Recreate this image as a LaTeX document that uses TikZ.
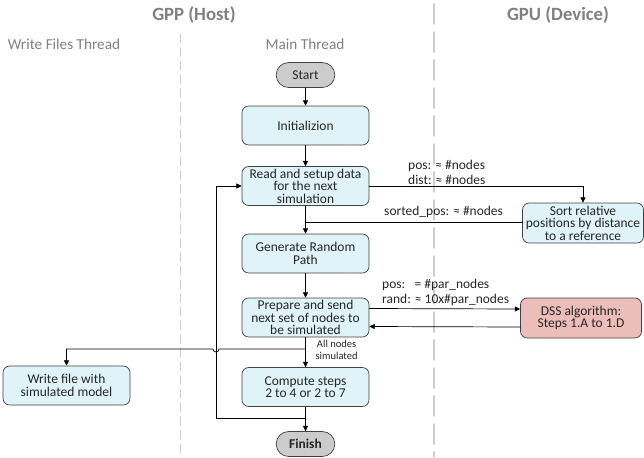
\documentclass[tikz,border=0pt]{standalone}
\usepackage{fontspec}
\setmainfont{Carlito}
\usetikzlibrary{arrows.meta,shapes.misc}

\begin{document}
\begin{tikzpicture}
[x=0.3mm,y=-0.3mm,line cap=round,
% Styles
every node/.style={font=\fontsize{11.5}{10.6}\selectfont,text=textcolor},
process/.style={draw=boxline,fill=boxcolor,rounded corners=2mm,
  minimum width=127*0.3mm,minimum height=39*0.3mm,inner sep=0.5pt,
  align=center,line width=0.6pt},
terminal/.style={draw=boxline,fill=termcolor,rounded rectangle,
  minimum width=61*0.3mm,minimum height=25*0.3mm,inner sep=1pt,line width=0.6pt},
flow/.style={-{Triangle[length=1.6mm,width=1.5mm]},line width=0.6pt},
link/.style={line width=0.6pt},
lane title/.style={font=\fontsize{16}{18}\selectfont\bfseries,text=titlecolor},
thread title/.style={font=\fontsize{13}{15}\selectfont,text=titlecolor},
data text/.style={align=left,anchor=west,inner sep=0pt,font=\fontsize{11.5}{13}\selectfont}]
% Colors
\colorlet{textcolor}{black!85}
\colorlet{titlecolor}{black!50}
\colorlet{boxline}{black!75}
\definecolor{boxcolor}{RGB}{223,243,248}
\definecolor{gpucolor}{RGB}{236,190,186}
\colorlet{termcolor}{black!20}
\colorlet{lanecolor}{black!20}
\useasboundingbox (0,0) rectangle (644,457);
% Lanes
\draw[lanecolor,line width=1.4pt,dash pattern=on 6mm off 2.4mm] (434,4) -- (434,457);
\draw[lanecolor,line width=0.7pt,dash pattern=on 2.6mm off 1.5mm] (180,34) -- (180,457);
\node[lane title] (gpp) at (194,15) {GPP (Host)};
\node[lane title] (gpu) at (558,15) {GPU (Device)};
\node[thread title] (wft) at (64,44) {Write Files Thread};
\node[thread title] (mt) at (305,44) {Main Thread};
% Main thread
\node[terminal] (start) at (305.5,75) {Start};
\node[process] (init) at (305.5,125.5) {Initializion};
\node[process] (read) at (305.5,186) {Read and setup data\\for the next\\simulation};
\node[process] (gen) at (305.5,253.5) {Generate Random\\Path};
\node[process] (prep) at (305.5,317.5) {Prepare and send\\next set of nodes to\\be simulated};
\node[process] (comp) at (305.5,387) {Compute steps\\2 to 4 or 2 to 7};
\node[terminal,font=\fontsize{11.5}{13}\selectfont\bfseries] (finish) at (305.5,444) {Finish};
% Other threads
\node[process] (write) at (66.5,385.5) {Write file with\\simulated model};
\node[process,minimum width=121*0.3mm,minimum height=40*0.3mm] (sort) at (583,223)
  {Sort relative\\positions by distance\\to a reference};
\node[process,fill=gpucolor,minimum width=121*0.3mm,minimum height=40*0.3mm] (dss) at (581,318)
  {DSS algorithm:\\Steps 1.A to 1.D};
% Connectors
\draw[flow] (start) -- (init);
\draw[flow] (init) -- (read);
\draw[flow] (read) -- (gen);
\draw[flow] (gen) -- (prep);
\draw[flow] (prep) -- node[right=5pt,pos=0.42,align=center,
  font=\fontsize{9}{11}\selectfont] (done) {All nodes\\simulated} (comp);
\draw[flow] (comp) -- (finish);
\coordinate (loopfork) at (305.5,418);
\coordinate (looplane) at (216,0);
\draw[flow] (loopfork) -- (loopfork -| looplane) |- (read.west);
\coordinate (writefork) at (305.5,349);
\draw[flow] (writefork) -- (219,349) arc [start angle=0,end angle=180,radius=3] -| (write.north);
\draw[flow] (read.east) -| (sort.north);
\node[data text] (sendsort) at (408,172) {pos: ≈ \#nodes\\dist: ≈ \#nodes};
\coordinate (sortjoin) at (305.5,222.5);
\draw[link] (sort.west |- sortjoin) -- (sortjoin);
\node[data text] (sorted) at (384,212) {sorted\_pos: ≈ \#nodes};
\draw[flow] ([yshift=9*0.3mm]prep.east) -- ([yshift=9*0.3mm]dss.west);
\draw[flow] ([yshift=-9*0.3mm]dss.west) -- ([yshift=-9*0.3mm]prep.east);
\node[data text] (senddss) at (382,292.5) {pos: \ \,= \#par\_nodes\\rand: ≈ 10x\#par\_nodes};
\end{tikzpicture}
\end{document}
